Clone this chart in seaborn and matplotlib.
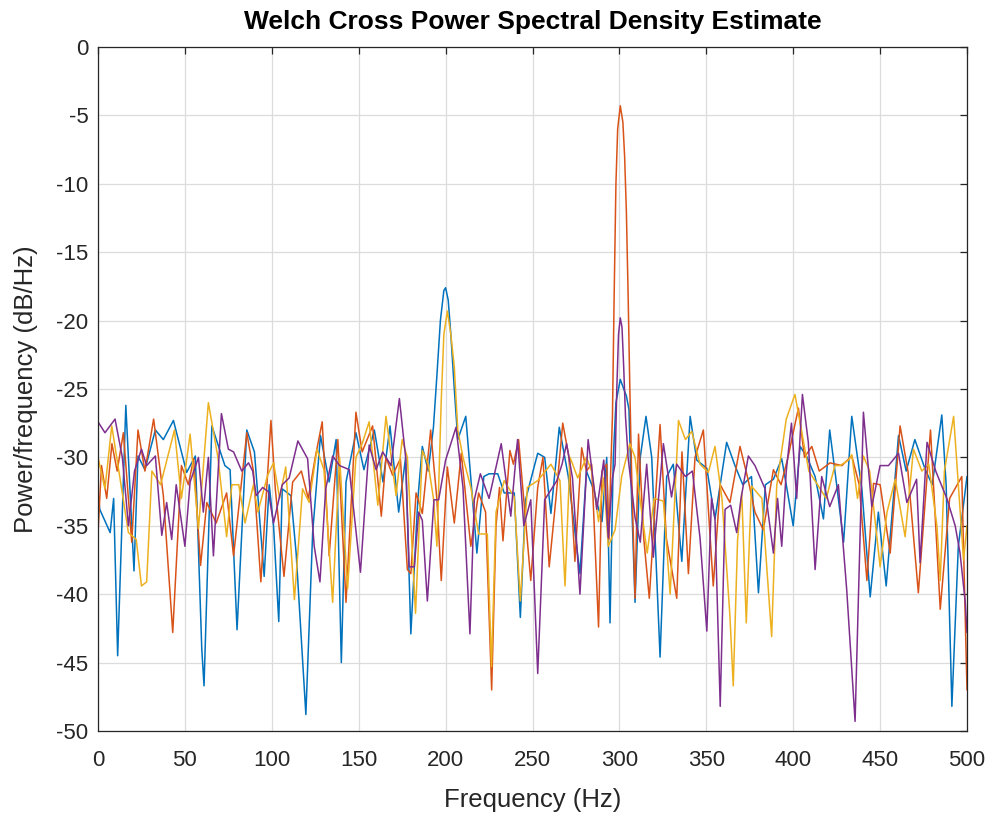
import numpy as np
import pandas as pd
import seaborn as sns
import matplotlib.pyplot as plt

# --- data (frequency in Hz, power in dB/Hz) ---
blue_f = [0, 1, 7, 9, 11.3, 16, 20.7, 23, 27, 33, 37.6, 43.4, 51, 56, 59.7, 61, 65.5, 73, 76, 80,
          85.6, 90, 95.6, 98.5, 101, 104, 106, 111, 114, 119.6, 123.5, 128, 133, 137, 140, 142.7,
          148.4, 153, 159, 164, 168, 173, 177, 180, 184, 186.6, 190, 193, 195, 197, 199, 200,
          201.5, 203, 205, 207, 211.6, 215.5, 218, 222, 225, 230, 233.7, 239.5, 243, 246, 253,
          257, 260.6, 265.4, 270.6, 277.3, 281, 285, 290, 292.7, 294.6, 296.5, 298, 300.5, 302.5,
          304, 305.5, 307, 309, 312, 315.3, 318.6, 323.4, 327.2, 331, 335.9, 340.7, 344.5, 350.3,
          355, 361.7, 366.5, 371, 376, 380, 384, 388.6, 393.4, 396, 400, 404, 408, 412.6, 417.4,
          421, 425, 429, 433.7, 439.5, 444.3, 449, 453.5, 460.6, 465, 470, 476, 480, 485.5, 488,
          491.3, 495, 500]
blue_db = [-32.5, -33.8, -35.5, -33, -44.5, -26.2, -38.3, -29.9, -30.9, -28, -28.7, -27.3, -31.1,
           -29.9, -44, -46.7, -27.7, -30.6, -30.9, -42.6, -28, -29.6, -38.7, -32, -35, -42, -32.3,
           -32.8, -37, -48.8, -35.5, -28.4, -31.8, -28.7, -45, -31.8, -28.2, -30.9, -28, -31.8,
           -27.7, -34, -30, -42.9, -33.1, -29.2, -31, -27.8, -24, -20, -17.8, -17.6, -18.5, -21,
           -25, -28.7, -27, -33.1, -37, -31.4, -31.2, -31.2, -32.6, -32.6, -41.7, -33.1, -29.7,
           -30, -34.1, -27.8, -31.4, -38.5, -31, -32.3, -34.7, -30, -42.1, -30, -26, -24.3, -25,
           -25.5, -26.5, -33, -40.6, -30, -27, -30, -44.6, -31.4, -30.5, -37.6, -27, -30.2, -30.8,
           -34.5, -28.9, -30.6, -32, -31.4, -39.9, -32, -31.6, -30.1, -32, -35, -29.2, -30, -31.4,
           -34.5, -28, -32, -36.2, -27, -32.3, -40.2, -34, -39.4, -28.4, -31, -28.7, -30.9, -32,
           -26.9, -32, -48.2, -36.5, -31.4]

orange_f = [0, 2, 5, 8, 11, 14.6, 19.4, 23, 27, 32, 37.6, 43, 48, 52, 55, 59, 62.6, 68, 74, 78,
            85.6, 89.4, 93.7, 99.5, 102, 107, 112, 117, 121, 125, 129, 133, 138, 142.7, 148.4,
            152, 158, 163, 165.7, 169.5, 174, 178, 180, 183, 186.6, 191.4, 195, 197.5, 201, 205,
            209, 214.5, 219, 223, 226.5, 229, 231, 233, 237, 239, 242, 249, 253, 256, 259.6,
            263.4, 267.4, 271, 274.4, 278.3, 281, 284, 288, 290, 292.7, 294, 295, 296, 297, 298,
            299, 300.5, 302, 303, 304, 305, 306, 307, 309, 311, 314, 317.2,
            323.4, 327, 333, 336, 339.7, 343.5, 348.3, 354, 358, 363.6, 369.4, 374, 378, 382.8,
            388.6, 393, 397, 403, 406.5, 410.7, 415, 421.2, 428, 433.7, 438, 442.4, 446.2, 450,
            455.8, 461.5, 466, 472, 479, 484.6, 490, 497, 500]
orange_db = [-35.5, -30.6, -33, -29, -31, -28.2, -36.2, -28, -31, -27.2, -32.8, -42.8, -30.6, -32,
             -30.1, -37.9, -33.3, -34.8, -32.6, -37.2, -28.2, -31, -39.1, -27.3, -32.3, -38.7,
             -31.8, -31, -33, -30, -27.4, -37.2, -28.7, -40.6, -26.7, -29.6, -27.7, -34.3, -30,
             -31.3, -30.1, -38.2, -38.5, -32.6, -34.1, -28, -33.1, -39, -30.7, -34.8, -29.7,
             -36.5, -32.6, -34, -47, -35, -32.2, -36.1, -29.5, -30.5, -28.7, -39, -32.2, -30, -38,
             -33.1, -27.5, -30, -37.6, -29.3, -31, -30.5, -42.4, -31, -30.5, -36, -31, -27, -18,
             -10, -6, -4.3, -5.5, -8, -12, -18, -25, -31, -40.3, -28.3, -35.9, -40.3, -27.6,
             -35.9, -40.3, -29.6, -38.5, -30, -28, -39.4, -32, -33.3, -29.2, -31.6, -34, -35.3,
             -30.9, -32, -30, -26.4, -30, -29.2, -31, -30.4, -30.6, -29.9, -32, -39, -31.9, -32,
             -37, -27.7, -31, -39.9, -28, -41.1, -33, -31.4, -47]

yellow_f = [0, 4, 7.9, 12, 17.5, 22, 25, 28, 31, 36, 40, 44, 48, 53, 57.8, 63.5, 69, 74, 77, 81,
            84.6, 89.4, 92, 97.6, 101, 104.5, 108, 113, 117.7, 121.5, 126, 130, 135, 139, 143.6,
            148.4, 152, 156, 161, 165.7, 171.5, 175, 178, 182.7, 186.6, 190, 193, 195, 197.5,
            199, 201, 203, 205, 207, 210, 214.5, 219, 224, 226.4, 229, 233.7, 239.5, 243, 247,
            253, 260.6, 265.8, 268.7, 271.6, 276, 281, 284, 288, 291, 293.6, 297.5, 301.3, 306,
            309, 312, 316, 320, 325.3, 329.2, 334, 338, 341.6, 346.4, 351.2, 355, 359, 363.6,
            365.5, 368, 370.4, 373, 376, 382, 387.6, 390.5, 396, 401, 405, 409, 414, 419, 424,
            427, 431.8, 433.7, 437, 440.4, 444, 450, 454, 458.7, 464.4, 469.2, 474, 478, 482.7,
            484.6, 487, 492.3, 498, 500]
yellow_db = [-30, -32.3, -27.7, -31, -35.5, -36, -39.4, -39.1, -31, -32, -30, -28, -33, -28.3,
             -35.2, -26, -30, -35.8, -32, -32, -34.8, -32, -34, -31.3, -30.4, -33, -30.7, -40.4,
             -32.3, -33.3, -29.4, -30.9, -40.6, -30, -39.6, -30, -29, -27.4, -33.5, -27, -32.8,
             -28.7, -30, -41.4, -29.5, -30.5, -33, -36.5, -25.8, -21, -19.3, -21, -23.4, -28, -30,
             -32.2, -35.6, -35.6, -45.3, -34, -31.7, -32.9, -40.5, -32.2, -31.7, -30.5, -31.7,
             -39.4, -30, -31.5, -30, -31, -34.7, -31.5, -36.5, -35.3, -31.4, -29, -30, -33.2, -37,
             -33, -33.2, -40, -27.3, -28.7, -28.1, -30.5, -31.1, -29.2, -33, -41.6, -46.7, -36,
             -32.6, -42.1, -32.1, -33, -43.1, -32.1, -27.2, -25.4, -28.2, -31, -32, -33, -30.6,
             -30.6, -30.2, -29.8, -33, -29.9, -31, -38, -34, -31.6, -35.8, -29.4, -31, -30.5, -35,
             -39, -31, -27, -37.5, -35]

purple_f = [0, 4, 9.8, 14, 17.5, 21, 25, 28, 33, 36.7, 39.5, 42.4, 45, 50, 53, 57.8, 60.6, 63.5,
            66.4, 71, 75, 78, 82.7, 86.6, 89, 91, 94.7, 98, 101, 106, 110, 115, 120.6, 124.4,
            127.7, 131, 135, 139, 144.6, 151, 156, 160, 163.8, 168.6, 173.4, 177, 179, 182,
            184.5, 186.6, 189.5, 193.3, 196, 200, 206, 210, 214, 216.5, 220, 225, 232, 237.5,
            241.4, 245, 249, 253, 257, 264, 267, 269.6, 273, 277.3, 282, 287, 291, 293.6, 296,
            297.5, 298.5, 299.5, 300.5, 301.5, 302.5, 303.5, 305, 309, 312, 315.7, 319.5, 325.3,
            330, 333, 338, 342, 346.4, 350.3, 353, 355, 358, 360.8, 364, 367.5, 370, 374.2, 378,
            383.8, 388.6, 391, 393.4, 396, 399, 402, 405.3, 408.7, 412.6, 416.4, 421, 426, 430.8,
            435.6, 440.4, 445.2, 450, 454.8, 460.6, 465.4, 471, 473, 477, 482, 488.4, 493.2, 496,
            499, 500]
purple_db = [-27.4, -28.2, -27.2, -30, -35, -31, -29.4, -30.6, -29.9, -35.7, -33.3, -36, -32,
             -36.5, -31.8, -30, -34, -30, -37.2, -26.8, -29.4, -29.6, -31, -30.4, -31, -32.8,
             -32.2, -32.5, -34.8, -32, -31.5, -28.8, -30.1, -36.5, -39.1, -32.3, -29.9, -30.6,
             -30.9, -38.4, -29.1, -30.9, -29.6, -30.6, -25.7, -30, -38, -38, -34, -34.6, -40.5,
             -33.1, -33.1, -30.2, -27.8, -32.2, -42.9, -33.1, -31.2, -33, -29, -34.3, -28.7, -35,
             -33.1, -45.8, -33.1, -31.7, -30.5, -29, -31.5, -40, -28.7, -33.8, -30.2, -35.9, -31.5,
             -30.5, -25, -21, -19.8, -20.5, -23.5, -27, -30, -34.4, -36.2, -30.5, -37.3, -29,
             -32.9, -30.5, -31.4, -31, -35.9, -42.7, -33, -34.5, -48.2, -33.8, -33.5, -35.5, -33,
             -29.9, -30.6, -32.3, -37, -33, -36.5, -31, -27.5, -33, -25.4, -28.9, -38.2, -31.4,
             -33.6, -32, -39.7, -49.3, -26.7, -33.6, -30.6, -30.6, -29.7, -33.3, -31.6, -37.7,
             -28.9, -31, -33, -35, -37, -40.6, -42.8]

series_names = ["s1", "s2", "s3", "s4"]
colors = ["#0072BD", "#D95319", "#EDB120", "#7E2F8E"]

df = pd.concat([
    pd.DataFrame({"freq": f, "psd": p, "series": n})
    for f, p, n in zip([blue_f, orange_f, yellow_f, purple_f],
                       [blue_db, orange_db, yellow_db, purple_db], series_names)
], ignore_index=True)

# --- MATLAB-like look ---
sns.set_theme(style="white")
plt.rcParams['font.family'] = ['Liberation Sans', 'DejaVu Sans']
plt.rcParams['axes.unicode_minus'] = False

fig = plt.figure(figsize=(9.92, 8.17), dpi=100)
ax = fig.add_axes([0.0988, 0.1053, 0.8760, 0.8372])

sns.lineplot(data=df, x="freq", y="psd", hue="series", palette=colors,
             estimator=None, sort=False, linewidth=1.1, legend=False, ax=ax)

ax.set_xlim(0, 500)
ax.set_ylim(-50, 0)
ax.set_xticks(np.arange(0, 501, 50))
ax.set_yticks(np.arange(-50, 1, 5))
ax.grid(True, color="#DCDCDC", linewidth=0.9)
ax.set_axisbelow(True)
for s in ax.spines.values():
    s.set_color("#262626")
    s.set_linewidth(0.9)
ax.tick_params(direction="in", length=5, width=0.9, colors="#262626",
               labelsize=16, top=True, right=True)
ax.tick_params(axis="x", pad=14)
ax.tick_params(axis="y", pad=7)

ax.set_title("Welch Cross Power Spectral Density Estimate", fontsize=19,
             fontweight="bold", color="black", pad=13)
ax.set_xlabel("Frequency (Hz)", fontsize=18.5, color="#262626", labelpad=12)
ax.set_ylabel("Power/frequency (dB/Hz)", fontsize=18.5, color="#262626", labelpad=13)

fig.savefig("out.png", dpi=100)
